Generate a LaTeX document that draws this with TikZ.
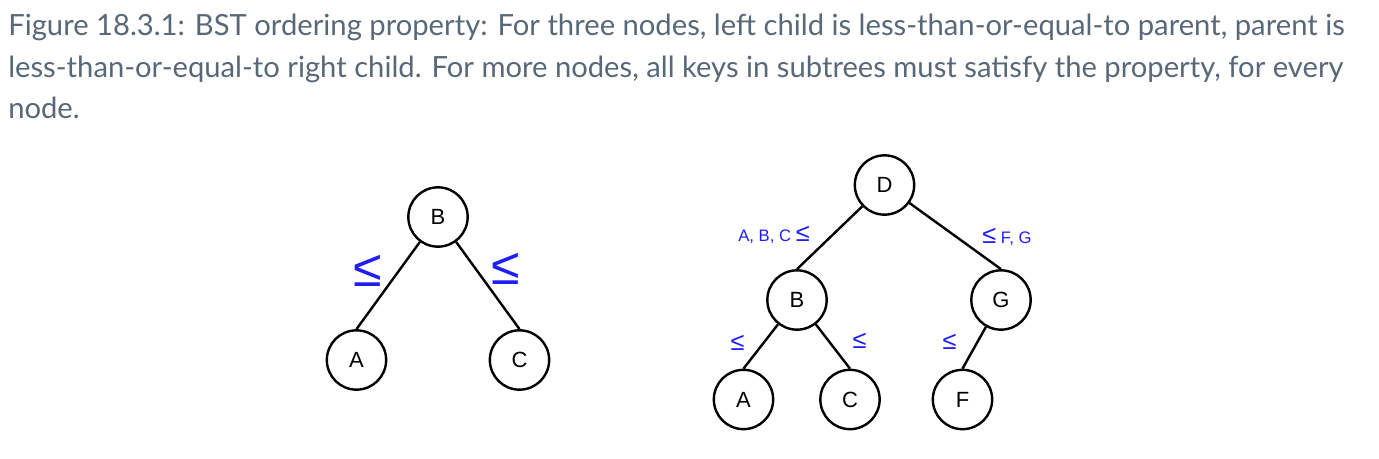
\documentclass[tikz,border=0pt]{standalone}
\usepackage{fontspec}
\setmainfont{Liberation Sans}
\newfontfamily\capfont{Lato}
\definecolor{capgray}{RGB}{88, 104, 120}
\definecolor{leqblue}{RGB}{30, 30, 245}
\usetikzlibrary{positioning}
\newcommand{\lsym}{{\fontsize{19}{20}\selectfont ≤}}
\tikzset{
  treenode/.style={
    circle, draw, line width=1.8pt, minimum size=44.5pt, inner sep=0,
    font=\fontsize{16.5}{18}\selectfont
  },
  edge/.style={line width=1.8pt},
  bigleq/.style={text=leqblue, inner sep=0, font=\fontsize{39}{40}\selectfont},
  leq/.style={text=leqblue, inner sep=0, font=\fontsize{12.5}{14}\selectfont},
  capline/.style={anchor=base west, inner sep=0, text=capgray,
    font=\capfont\fontsize{21.9}{25}\selectfont}
}

\begin{document}
\begin{tikzpicture}[x=0.75pt, y=-0.75pt]
\useasboundingbox (0,0) rectangle (1379,459);

% caption
\node[capline] (cap1) at (8,36) {Figure 18.3.1: BST ordering property: For three nodes, left child is less-than-or-equal-to parent, parent is};
\node[capline] (cap2) at (8,78) {less-than-or-equal-to right child. For more nodes, all keys in subtrees must satisfy the property, for every};
\node[capline] (cap3) at (8,119) {node.};

% three nodes
\node[treenode] (b1) at (438,217) {B};
\node[treenode] (a1) at (356.5,360) {A};
\node[treenode] (c1) at (519.5,360) {C};
\draw[edge] (b1) -- (a1.north);
\draw[edge] (b1) -- (c1.north);
\node[bigleq] (l1) at (368,271) {≤};
\node[bigleq] (l2) at (506,269) {≤};

% more nodes
\node[treenode] (d) at (884.5,185) {D};
\node[treenode] (b2) at (797,300) {B};
\node[treenode] (g) at (1001,300) {G};
\node[treenode] (a2) at (743.5,399.5) {A};
\node[treenode] (c2) at (850,399.5) {C};
\node[treenode] (f) at (962.5,399.5) {F};
\draw[edge] (d) -- (b2.north);
\draw[edge] (d) -- (g.north);
\draw[edge] (b2) -- (a2.north);
\draw[edge] (b2) -- (c2.north);
\draw[edge] (g) -- (f.north);
\node[leq] (l3) at (774,235) {A, B, C \lsym};
\node[leq] (l4) at (1007,237) {\lsym\ F, G};
\node[leq] (l5) at (737.5,343) {\lsym};
\node[leq] (l6) at (859.5,341) {\lsym};
\node[leq] (l7) at (949.5,342) {\lsym};
\end{tikzpicture}
\end{document}
